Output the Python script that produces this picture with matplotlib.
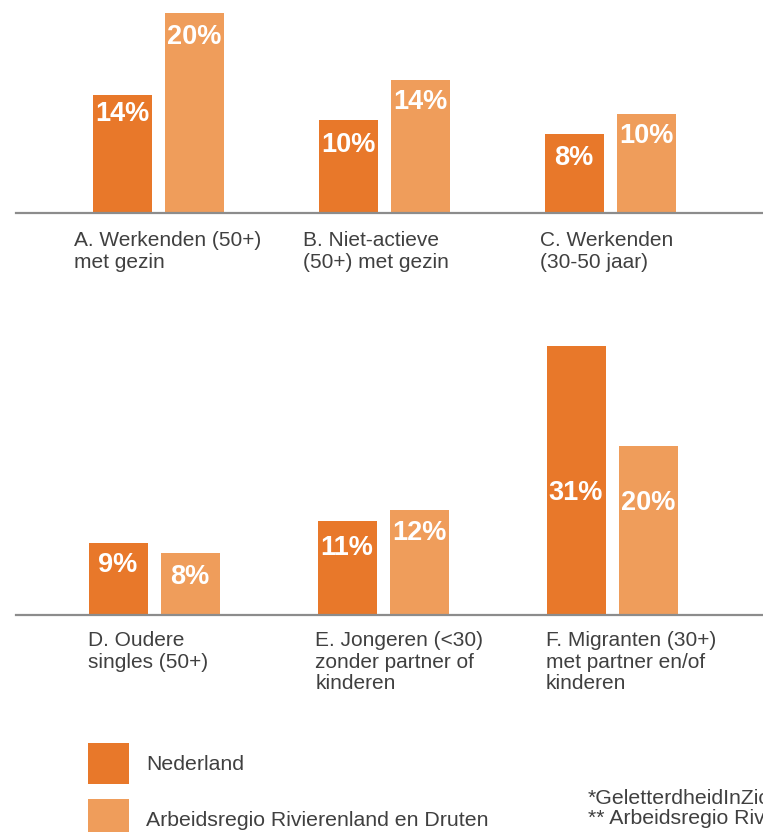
import matplotlib
matplotlib.use("Agg")
import matplotlib.pyplot as plt
from matplotlib.patches import Rectangle

plt.rcParams['font.family'] = ['Liberation Sans', 'DejaVu Sans']

# ---------------- data ----------------
series = ["Nederland", "Arbeidsregio Rivierenland en Druten"]

top_categories = ["A. Werkenden (50+)\nmet gezin",
                  "B. Niet-actieve\n(50+) met gezin",
                  "C. Werkenden\n(30-50 jaar)"]
top_nl_labels = ["14%", "10%", "8%"]
top_rg_labels = ["20%", "14%", "10%"]
# bar heights (in %)
top_nl_heights = [11.8, 9.3, 7.9]
top_rg_heights = [20.0, 13.3, 9.9]

bottom_categories = ["D. Oudere\nsingles (50+)",
                     "E. Jongeren (<30)\nzonder partner of\nkinderen",
                     "F. Migranten (30+)\nmet partner en/of\nkinderen"]
bottom_nl_labels = ["9%", "11%", "31%"]
bottom_rg_labels = ["8%", "12%", "20%"]
bottom_nl_heights = [8.3, 10.8, 30.9]
bottom_rg_heights = [7.1, 12.1, 19.4]

footnotes = ["*GeletterdheidInZicht", "** Arbeidsregio Rivierenland en Druten"]

# ---------------- style ----------------
C_NL = "#E8782A"
C_RG = "#EF9D5B"
TXT = "#404040"
LINE = "#8C8C8C"
colors = [C_NL, C_RG]

W, H = 763, 832
fig = plt.figure(figsize=(W / 100, H / 100), dpi=100)


def make_row(base_px, height_px, ylim_top, g0_px, unit_px, cats, nl_h, rg_h,
             nl_lab, rg_lab, nl_off, rg_off, cat_dx, cat_off):
    left_px = 16
    ax = fig.add_axes([left_px / W, 1 - base_px / H, (W - left_px) / W, height_px / H])
    ax.set_xlim(-(g0_px - left_px) / unit_px, (W - g0_px) / unit_px)
    ax.set_ylim(0, ylim_top)
    ax.set_facecolor("none")
    for s in ["top", "right", "left"]:
        ax.spines[s].set_visible(False)
    ax.spines["bottom"].set_color(LINE)
    ax.spines["bottom"].set_linewidth(1.6)
    ax.spines["bottom"].set_zorder(3)
    ax.set_xticks([])
    ax.set_yticks([])
    off = 36 / unit_px
    bw = 59 / unit_px
    x = list(range(len(cats)))
    ax.bar([i - off for i in x], nl_h, width=bw, color=C_NL, zorder=2)
    ax.bar([i + off for i in x], rg_h, width=bw, color=C_RG, zorder=2)
    for i in x:
        ax.annotate(nl_lab[i], (i - off, nl_h[i]), xytext=(0, -nl_off[i] * 0.72),
                    textcoords="offset points", ha="center", va="center",
                    color="white", fontsize=19.5, fontweight="bold", zorder=4)
        ax.annotate(rg_lab[i], (i + off, rg_h[i]), xytext=(0, -rg_off[i] * 0.72),
                    textcoords="offset points", ha="center", va="center",
                    color="white", fontsize=19.5, fontweight="bold", zorder=4)
        ax.annotate(cats[i], (i + cat_dx[i], 0), xytext=(0, -cat_off * 0.72),
                    textcoords="offset points", ha="left", va="top",
                    color=TXT, fontsize=15, linespacing=1.14,
                    annotation_clip=False)


make_row(213, 213, 21.3, 158, 226, top_categories,
         top_nl_heights, top_rg_heights, top_nl_labels, top_rg_labels,
         [19, 25, 24], [24, 22, 22], [-0.37, -0.36, -0.31], 18.5)
make_row(615, 285, 285 / 8.7, 154, 229, bottom_categories,
         bottom_nl_heights, bottom_rg_heights, bottom_nl_labels, bottom_rg_labels,
         [22, 27, 147], [24, 23, 57], [-0.29, -0.295, -0.29], 16.5)

# legend (manual, square markers)
legend_y = [763, 819]
for c, lab, yc in zip(colors, series, legend_y):
    fig.add_artist(Rectangle((88 / W, 1 - (yc + 20.5) / H), 41 / W, 41 / H,
                             transform=fig.transFigure, facecolor=c, edgecolor="none"))
    fig.text(146 / W, 1 - (yc + 1) / H, lab, ha="left", va="center", color=TXT, fontsize=15.3)

fig.text(588 / W, 1 - 798 / H, footnotes[0], ha="left", va="center", color=TXT, fontsize=15.3)
fig.text(588 / W, 1 - 819 / H, footnotes[1], ha="left", va="center", color=TXT, fontsize=15.3)

fig.savefig("out.png", dpi=100, facecolor="white")
